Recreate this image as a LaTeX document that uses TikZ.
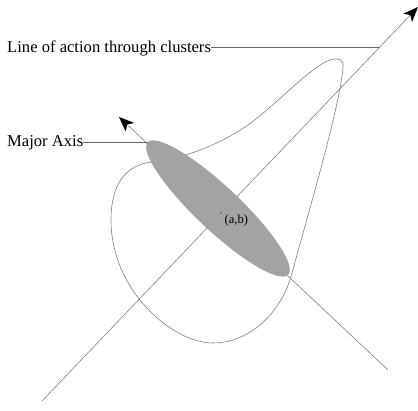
\documentclass[tikz,border=0pt]{standalone}
\usepackage{fontspec}
\setmainfont{Liberation Serif}
\usetikzlibrary{arrows.meta,shapes.geometric}
\tikzset{
  thinline/.style={draw=black!50, line width=0.6pt},
  leader/.style={draw=black!60, line width=1pt},
  bigarrow/.style={-{Stealth[length=15pt,width=12pt,inset=4pt,black]}},
  lbl/.style={font=\fontsize{16.6}{18}\selectfont, inner sep=0pt},
}
\begin{document}
\begin{tikzpicture}[x=1pt,y=1pt]
\useasboundingbox (0,0) rectangle (418,410);
% teardrop cluster outline
\draw[thinline]
 (342,334) .. controls (336,290) and (305,185) .. (292,137)
 .. controls (282,98) and (250,67) .. (213,67)
 .. controls (172,67) and (111,120) .. (111,190)
 .. controls (111,225) and (125,245) .. (152,248)
 .. controls (180,251) and (215,263) .. (245,283)
 .. controls (275,303) and (315,349) .. (334,351)
 .. controls (345,352) and (343.5,346) .. (342,334) -- cycle;
% line of action
\coordinate (loaS) at (42,9);
\coordinate (loaE) at (418,403);
\draw[thinline, bigarrow] (loaS) -- (loaE);
% major axis
\coordinate (maS) at (388,40);
\coordinate (maE) at (119,293);
\draw[thinline, bigarrow] (maS) -- (maE);
% ellipse
\node[ellipse, fill=black!36, minimum width=193pt, minimum height=44pt, inner sep=0pt, rotate=-43.3] (E) at (218,201.5) {};
% centre point
\fill[black] (221,197) circle (0.7pt) coordinate (ab);
\node[font=\fontsize{12.5}{14}\selectfont, inner sep=0pt, anchor=west] (abl) at (224.5,190) {(a,b)};
% labels
\node[lbl, anchor=base west] (LA) at (7,357) {Line of action through clusters};
\coordinate (lx) at (intersection of loaS--loaE and 0,362--418,362);
\draw[leader] (LA.east |- lx) -- (lx);
\node[lbl, anchor=base west] (MA) at (7,263) {Major Axis};
\draw[leader] (E.west -| MA.east) -- (E.west);
\end{tikzpicture}
\end{document}
